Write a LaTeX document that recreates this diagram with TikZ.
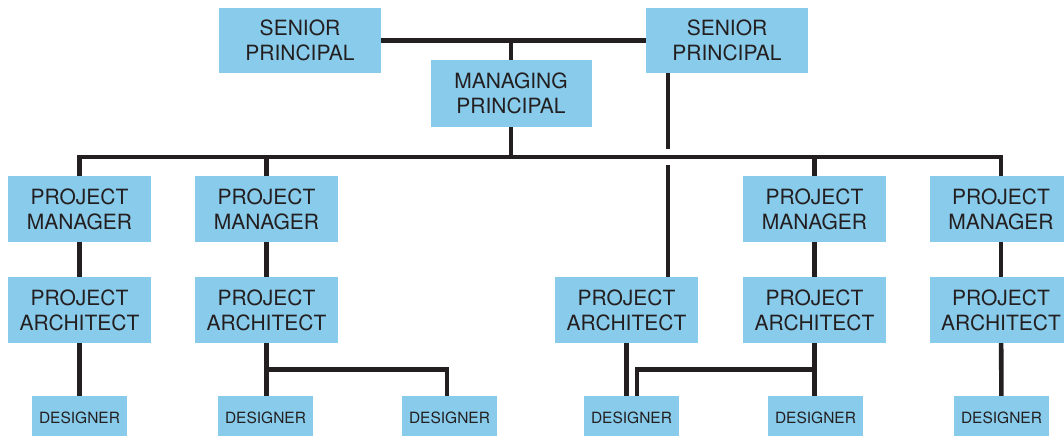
\documentclass[tikz,border=0pt]{standalone}
\usepackage{fontspec}
\setmainfont{TeX Gyre Heros}
\usetikzlibrary{calc}
\definecolor{boxblue}{RGB}{137,203,235}
\definecolor{ink}{RGB}{35,31,32}
\begin{document}
\begin{tikzpicture}[x=1pt,y=-1pt,
  box/.style={fill=boxblue, text=ink, inner sep=0pt, align=center, font=\fontsize{21}{25}\selectfont},
  big/.style={box, minimum width=143pt, minimum height=66pt},
  topbox/.style={box, minimum width=162pt, minimum height=65pt},
  des/.style={box, minimum width=95pt, minimum height=40pt, text height=14.4pt, text depth=0pt, font=\fontsize{15.5}{18}\selectfont},
  link/.style={draw=ink, line width=4.6pt, line join=miter}]
\useasboundingbox (0,0) rectangle (1064,436);
\begin{scope}
\clip (0,0) rectangle (1064,436);
\node[topbox] (sp1) at (300,40.5) {SENIOR\\PRINCIPAL};
\node[topbox] (sp2) at (727,40.5) {SENIOR\\PRINCIPAL};
\node[box, minimum width=161pt, minimum height=67pt] (mp) at (511,93.5) {MANAGING\\PRINCIPAL};
\node[big] (pm1) at (79.5,209) {PROJECT\\MANAGER};
\node[big] (pm2) at (266.5,209) {PROJECT\\MANAGER};
\node[big] (pm3) at (814.5,209) {PROJECT\\MANAGER};
\node[big] (pm4) at (1001,209) {PROJECT\\MANAGER};
\node[big] (pa1) at (79.5,310) {PROJECT\\ARCHITECT};
\node[big] (pa2) at (266.5,310) {PROJECT\\ARCHITECT};
\node[big] (pa3) at (626.5,310) {PROJECT\\ARCHITECT};
\node[big] (pa4) at (814.5,310) {PROJECT\\ARCHITECT};
\node[big] (pa5) at (1001,310) {PROJECT\\ARCHITECT};
\node[des] (d1) at (79.5,416) {DESIGNER};
\node[des] (d2) at (265.5,416) {DESIGNER};
\node[des] (d2b) at (449.5,416) {DESIGNER};
\node[des] (d3) at (631.5,416) {DESIGNER};
\node[des] (d4) at (815.5,416) {DESIGNER};
\node[des] (d5) at (1001.5,416) {DESIGNER};
\end{scope}
\coordinate (bus) at (0,157);
\coordinate (vx) at (668,0);
% top links
\draw[link] (sp1.east) -- (sp2.west);
\draw[link] (mp.north) -- (mp.north |- sp1.east);
\draw[link] (mp.south) -- (mp.south |- bus);
% bus
\draw[link] (pm1.north) -- (pm1.north |- bus) -- (pm4.north |- bus) -- (pm4.north);
\draw[link] (pm2.north) -- (pm2.north |- bus);
\draw[link] (pm3.north) -- (pm3.north |- bus);
% senior principal to project architect, bridging the bus
\draw[link] (sp2.south -| vx) -- ($(vx |- bus)+(0,-8)$);
\draw[link] ($(vx |- bus)+(0,8)$) -- (pa3.north -| vx);
% managers to architects
\draw[link] (pm1) -- (pa1);
\draw[link] (pm2) -- (pa2);
\draw[link] (pm3) -- (pa4);
\draw[link] (pm4) -- (pa5);
% architects to designers
\draw[link] (pa1) -- (d1);
\draw[link] (pa2.south) -- (pa2.south |- d2.north) coordinate[pos=0.5] (j2);
\draw[link] (j2) -| (d2b.north -| 447,0);
\draw[link] (pa3.south) -- (pa3.south |- d3.north);
\draw[link] (pa4.south) -- (pa4.south |- d4.north) coordinate[pos=0.5] (j4);
\draw[link] (j4) -| (d3.north -| 637,0);
\draw[link] (pa5) -- (d5);
\end{tikzpicture}
\end{document}
